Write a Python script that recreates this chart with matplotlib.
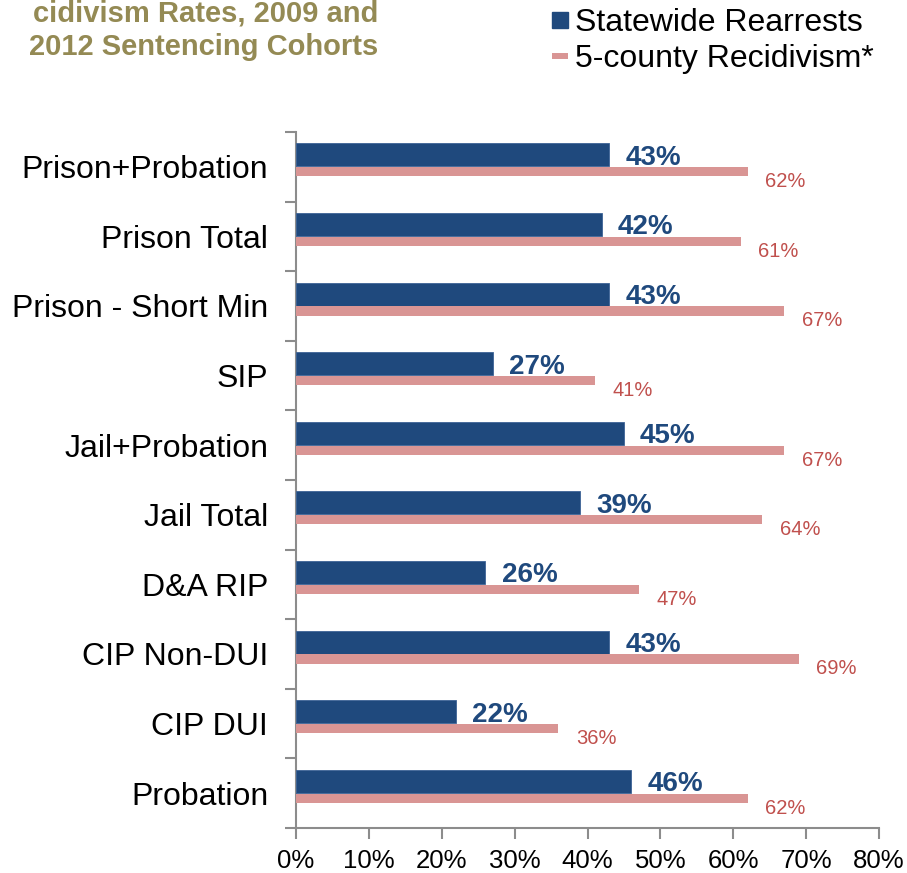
import matplotlib
matplotlib.use("Agg")
import matplotlib.pyplot as plt
from matplotlib.lines import Line2D
import numpy as np

categories = ["Prison+Probation", "Prison Total", "Prison - Short Min", "SIP",
              "Jail+Probation", "Jail Total", "D&A RIP", "CIP Non-DUI", "CIP DUI", "Probation"]
statewide = [43, 42, 43, 27, 45, 39, 26, 43, 22, 46]
county5 = [62, 61, 67, 41, 67, 64, 47, 69, 36, 62]
series_names = ["Statewide Rearrests", "5-county Recidivism*"]
xticks = [0, 10, 20, 30, 40, 50, 60, 70, 80]
title_lines = ["cidivism Rates, 2009 and", "2012 Sentencing Cohorts"]

BLUE = "#1F497D"
PINK = "#D99594"
PINK_TXT = "#C0504D"
GRAY = "#8C8C8C"
TITLE = "#948A54"

plt.rcParams['font.family'] = ['Liberation Sans', 'DejaVu Sans']

W, H = 907, 873
fig = plt.figure(figsize=(W / 100, H / 100), dpi=100)
ax = fig.add_axes([296 / W, (H - 828) / H, (879 - 296) / W, (828 - 132) / H])

y = np.arange(len(categories))
ax.barh(y - 0.172, statewide, height=0.33, color=BLUE, edgecolor="#3D6396", linewidth=0.6, zorder=3)
ax.barh(y + 0.072, county5, height=0.13, color=PINK, zorder=3)

for yi, v in zip(y, statewide):
    ax.text(v + 2.2, yi - 0.13, f"{v}%", color=BLUE, fontsize=20, fontweight="bold",
            va="center", ha="left")
for yi, v in zip(y, county5):
    ax.text(v + 2.4, yi + 0.215, f"{v}%", color=PINK_TXT, fontsize=14.5,
            va="center", ha="left")

ax.set_xlim(0, 80)
ax.set_ylim(len(categories) - 0.5, -0.5)
ax.set_xticks(xticks)
ax.set_xticklabels([f"{t}%" for t in xticks], fontsize=18.5)
ax.set_yticks(y)
ax.set_yticklabels(categories, fontsize=23)
ax.set_yticks(np.arange(len(categories) + 1) - 0.5, minor=True)
ax.tick_params(axis="y", which="major", length=0, pad=20)
ax.tick_params(axis="y", which="minor", length=8, width=1.5, color=GRAY, direction="out")
ax.tick_params(axis="x", which="major", length=8, width=1.5, color=GRAY, pad=7)

for s in ["top", "right"]:
    ax.spines[s].set_visible(False)
for s in ["left", "bottom"]:
    ax.spines[s].set_color(GRAY)
    ax.spines[s].set_linewidth(1.5)

# Title (partly cut off at left in the original)
fig.text(378 / W, 1 - 22 / H, title_lines[0], ha="right", va="baseline", fontsize=21,
         fontweight="bold", color=TITLE)
fig.text(378 / W, 1 - 55 / H, title_lines[1], ha="right", va="baseline", fontsize=21,
         fontweight="bold", color=TITLE)

handles = [
    Line2D([], [], ls="none", marker="s", markersize=11.5, color=BLUE),
    Line2D([], [], ls="none", marker="_", markersize=12, markeredgewidth=4.3, color=PINK),
]
fig.legend(handles, series_names, loc="upper left", bbox_to_anchor=(551 / W, 1 - 8 / H),
           frameon=False, fontsize=23, handlelength=0.55, handletextpad=0.2,
           labelspacing=0.2, borderpad=0, borderaxespad=0)

fig.savefig("out.png", dpi=100)
